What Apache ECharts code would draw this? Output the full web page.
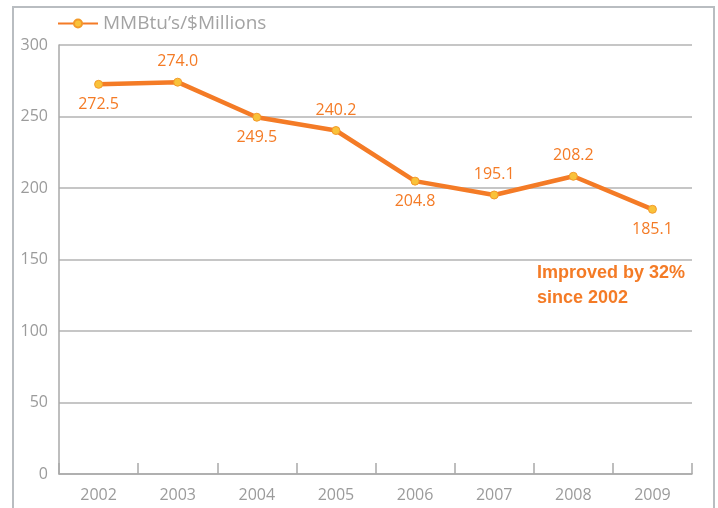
<!DOCTYPE html>
<html>
<head>
<meta charset="utf-8">
<script src="https://cdn.jsdelivr.net/npm/echarts@6/dist/echarts.min.js"></script>
<style>html,body{margin:0;padding:0;background:#fff}#c{width:718px;height:508px}</style>
</head>
<body>
<div id="c"></div>
<script>
var years = ['2002','2003','2004','2005','2006','2007','2008','2009'];
var values = [272.5, 274.0, 249.5, 240.2, 204.8, 195.1, 208.2, 185.1];
var labelPos = ['bottom','top','bottom','top','bottom','top','top','bottom'];
var seriesName = "MMBtu\u2019s/$Millions";
var yTicks = [0, 50, 100, 150, 200, 250, 300];

var FONT = '"Open Sans", "Noto Sans", sans-serif';
var ORANGE = '#f47b26';
var chart = echarts.init(document.getElementById('c'));
chart.setOption({
  animation: false,
  backgroundColor: '#fff',
  grid: {left: 59, right: 26, top: 45, bottom: 34, containLabel: false},
  legend: {
    left: 52, top: 9,
    itemWidth: 40, itemHeight: 10, itemGap: 5,
    textStyle: {color: '#a3a3a3', fontSize: 19, fontFamily: FONT},
    data: [seriesName]
  },
  xAxis: {
    type: 'category',
    data: years,
    boundaryGap: true,
    axisLine: {lineStyle: {color: '#a9a9a9', width: 1.5}},
    axisTick: {show: true, inside: true, length: 11, interval: 0, lineStyle: {color: '#a9a9a9', width: 1.5}},
    axisLabel: {color: '#9b9b9b', fontSize: 16, fontFamily: FONT, margin: 13}
  },
  yAxis: {
    type: 'value',
    min: yTicks[0], max: yTicks[yTicks.length - 1], interval: 50,
    axisLine: {show: true, lineStyle: {color: '#a9a9a9', width: 1.5}},
    axisTick: {show: false},
    splitLine: {lineStyle: {color: '#b3b3b3', width: 1.5}},
    axisLabel: {color: '#9b9b9b', fontSize: 16, fontFamily: FONT, margin: 11}
  },
  series: [{
    name: seriesName,
    type: 'line',
    data: values.map(function (v, i) {
      return {value: v, label: {position: labelPos[i]}};
    }),
    symbol: 'circle',
    symbolSize: 8,
    lineStyle: {color: ORANGE, width: 4.5},
    itemStyle: {color: '#f9c23a', borderColor: '#f39a2a', borderWidth: 1},
    label: {
      show: true,
      distance: 8,
      color: ORANGE,
      fontSize: 16,
      fontFamily: FONT,
      formatter: function (p) { return p.value.toFixed(1); }
    },
    z: 5
  }],
  graphic: [
    {
      type: 'rect',
      shape: {x: 13, y: 7, width: 701, height: 530},
      style: {fill: 'none', stroke: '#b9bdc1', lineWidth: 2},
      silent: true
    },
    {
      type: 'text',
      left: 537, top: 261,
      style: {
        text: 'Improved by 32%\nsince 2002',
        fill: ORANGE,
        font: 'bold 18px "Liberation Sans", Arial, sans-serif',
        lineHeight: 25
      }
    }
  ]
});
</script>
</body>
</html>
